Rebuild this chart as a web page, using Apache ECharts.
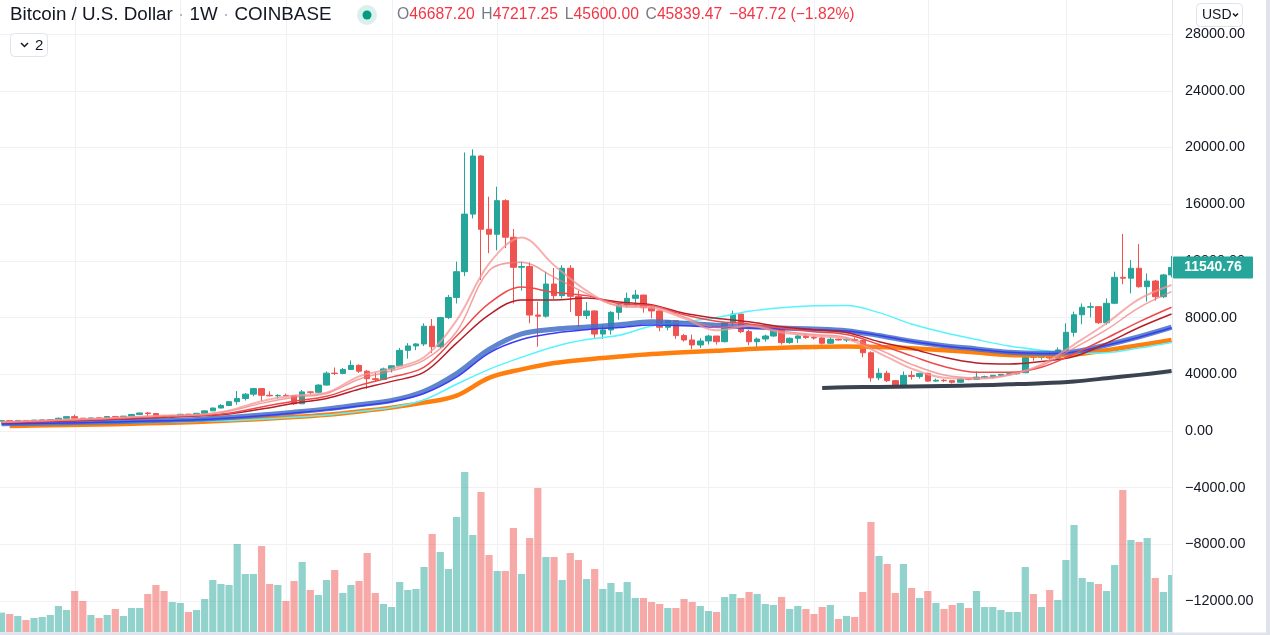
<!DOCTYPE html>
<html><head><meta charset="utf-8">
<script src="https://cdn.jsdelivr.net/npm/echarts@6/dist/echarts.min.js"></script>
<style>html,body{margin:0;padding:0;background:#fff;overflow:hidden}#c{width:1270px;height:635px}</style>
</head><body><div id="c"></div>
<script>
// ---- data (weekly BTC/USD, Coinbase) ----
const startWeek = '2016-10-31';
const opens = [702,725,712,745,740,768,780,795,900,1012,905,820,920,912,1020,998,1050,1170,1270,1230,1020,968,1090,1180,1170,1250,1420,1620,1800,2070,2290,2600,2990,2520,2480,2510,2480,1920,2760,2730,3240,4080,4060,4340,4630,4220,3690,3630,4380,4600,5690,6000,6140,7390,5950,8000,9420,11240,15300,19400,14230,13880,16250,13670,11550,11600,8180,8100,10370,9550,11480,9500,8150,8470,6840,7130,8370,8890,9360,9590,8700,8470,7320,7780,6730,6420,6070,6350,6700,6300,7640,8250,7010,6300,6490,6700,7320,6240,6540,6700,6600,6560,6190,6470,6420,6440,6380,5520,3750,4070,3550,3250,3920,3850,4060,3520,3580,3550,3440,3660,3640,3800,3830,3930,4000,4040,4110,5280,5200,5330,5150,5720,6960,8200,8730,8770,7640,9010,10840,10780,11480,10180,10580,9470,11010];
const highs = [745,740,760,760,775,785,800,940,1020,1160,915,935,930,1030,1070,1060,1190,1290,1330,1260,1050,1100,1200,1220,1270,1440,1650,1890,2100,2820,2680,3020,3000,2800,2600,2640,2480,2900,2800,3300,4200,4480,4450,4980,4700,4300,4120,4470,4620,5860,6200,6200,7600,7900,8050,9600,11950,19650,19870,19450,16530,17240,16350,14250,11940,11900,9120,11240,11500,11700,11700,9900,9100,8500,7500,8450,9000,9760,9950,9600,8900,8560,7800,7780,6850,6800,6550,6800,6700,7700,8490,8260,7140,6600,6800,7400,7410,6600,6800,6850,6700,6650,6600,6520,6530,6600,6440,5620,4420,4250,3600,4200,4240,4100,4120,3700,3660,3580,3700,3720,4200,3900,3950,4020,4100,4150,5350,5470,5350,5600,5900,7600,8420,9000,9060,8800,9360,11240,13900,12060,13190,11120,10650,11080,12350];
const lows = [690,695,700,720,730,755,770,790,890,880,750,800,880,905,950,980,1040,1150,990,950,890,930,1060,1120,1150,1230,1400,1600,1760,1850,2150,2450,2100,2450,2300,2450,1840,1900,2600,2700,3200,3950,4000,4300,4100,2980,3450,3590,4130,4580,5100,5700,5990,5500,5850,7900,9000,10930,15000,10650,12540,12750,12900,9000,9900,7600,5950,8000,9300,9350,8400,7350,7900,6540,6500,6800,7850,8700,8800,8350,7950,7040,7100,6500,6300,5780,5850,6100,6100,6250,7400,6900,6050,5880,6300,6650,6100,6150,6200,6500,6450,6100,6150,6370,6280,6350,5200,3480,3580,3450,3200,3230,3620,3700,3480,3480,3450,3350,3380,3580,3620,3700,3700,3830,3950,3980,4080,4960,5030,5050,5100,5680,6660,7530,8020,7550,7500,8950,10350,9710,10110,9130,9200,9380,10840];
const closes = [725,712,745,740,768,780,795,900,1012,905,820,920,912,1020,998,1050,1170,1270,1230,1020,968,1090,1180,1170,1250,1420,1620,1800,2070,2290,2600,2990,2520,2480,2510,2480,1920,2760,2730,3240,4080,4060,4340,4630,4220,3690,3630,4380,4600,5690,6000,6140,7390,5950,8000,9420,11240,15300,19400,14230,13880,16250,13670,11550,11600,8180,8100,10370,9550,11480,9500,8150,8470,6840,7130,8370,8890,9360,9590,8700,8470,7320,7780,6730,6420,6070,6350,6700,6300,7640,8250,7010,6300,6490,6700,7320,6240,6540,6700,6600,6560,6190,6470,6420,6440,6380,5520,3750,4070,3550,3250,3920,3850,4060,3520,3580,3550,3440,3660,3640,3800,3830,3930,4000,4040,4110,5280,5200,5330,5150,5720,6960,8200,8730,8770,7640,9010,10840,10780,11480,10180,10580,9470,11010,11540.76];
const volumes = [19.7,18.3,16.3,12.3,14.3,15.3,17.3,26.3,22.3,41.3,31.3,17.3,14.3,17.3,23.3,16.3,24.3,24.3,38.3,47.3,41.3,30.3,29.3,20.3,22.3,33.3,52.3,48.3,47.3,88.3,58.3,58.3,86.3,48.3,47.3,31.3,51.3,70.3,42.3,37.3,52.3,62.3,39.3,47.3,51.3,79.3,39.3,28.3,25.3,50.3,42.3,43.3,65.3,98.3,80.3,63.3,115.3,160.3,97.3,140.3,77.3,61.3,61.3,104.3,58.3,94.3,144.3,75.3,75.3,52.3,79.3,72.3,53.3,63.3,43.3,49.3,40.3,50.3,34.3,34.3,30.3,28.3,24.3,24.3,33.3,30.3,26.3,21.3,20.3,35.3,38.3,34.3,40.3,38.3,28.3,27.3,35.3,23.3,26.3,23.3,18.3,25.3,27.3,13.3,16.3,15.3,40.3,110.3,76.3,68.3,39.3,68.3,44.3,34.3,41.3,29.3,23.3,27.3,29.3,24.3,41.3,25.3,25.3,22.3,20.3,20.3,65.3,38.3,25.3,42.3,32.3,72.3,107.3,54.3,50.3,48.3,41.3,67.3,142.3,92.3,90.3,94.3,54.3,40.3,57.3];
// moving averages, read every 4 weeks
const maIdx = [0,4,8,12,16,20,24,28,32,36,40,44,48,52,56,60,64,68,72,76,80,84,88,92,96,100,104,108,112,116,120,124,128,132,136,140,144];
const maPinkA = [640,715,800,880,990,1100,1140,1450,2100,2500,2700,3850,4400,5200,7800,11800,13650,11700,9900,8800,8700,7950,7100,7400,6950,6700,6500,5500,4400,3750,3680,3950,4700,6100,7600,9300,10300];
const maPinkB = [620,700,790,870,975,1080,1140,1400,1950,2380,2650,3650,4250,5000,7000,11300,11900,10850,9700,8850,8800,8050,7300,7450,7050,6800,6600,5750,4700,3950,3750,3950,4600,5850,7150,8700,9830];
const maRed = [600,660,740,810,910,1010,1090,1260,1700,2100,2450,3200,3800,4500,6700,9000,10150,9780,9550,9000,8850,8200,7750,7550,7250,7000,6800,6100,5300,4550,4150,4150,4500,5450,6550,7700,8730];
const maDarkRed = [580,630,710,780,870,970,1050,1200,1550,1950,2300,2950,3500,4150,6200,8200,9250,9250,9380,9100,8900,8300,7950,7700,7350,7150,6950,6300,5800,5200,4800,4720,4900,5250,6200,7300,8250];
const maBlueThick = [520,550,590,630,690,750,820,960,1130,1330,1560,1850,2150,2800,4050,5750,6850,7180,7330,7500,7700,7600,7460,7350,7260,7200,7080,6740,6330,6020,5790,5560,5480,5590,6070,6650,7320];
const maBlueThin = [500,530,570,610,670,730,790,920,1080,1270,1490,1770,2070,2650,3800,5500,6450,6900,7150,7300,7470,7420,7320,7260,7200,7150,7050,6740,6330,6000,5770,5550,5470,5580,6050,6620,7280];
const maCyan = [450,480,510,540,580,620,670,730,830,970,1130,1380,1650,2200,3300,4350,5200,5950,6450,6750,7400,7700,8000,8450,8700,8830,8850,8350,7550,6950,6450,6000,5700,5470,5520,5850,6250];
const orangeIdx = [1,4,8,12,16,20,24,28,32,36,40,44,48,52,56,60,64,68,72,76,80,84,88,92,96,100,104,108,112,116,120,124,128,132,136,140,144];
const maOrange = [360,380,420,460,510,570,640,740,850,980,1150,1380,1650,2000,2500,3750,4350,4800,5050,5250,5430,5560,5660,5790,5870,5930,5960,5920,5830,5700,5530,5370,5340,5400,5700,6050,6420];
const blackIdx = [101,104,108,112,116,120,124,128,132,136,140,144];
const maBlack = [3030,3080,3110,3140,3170,3220,3290,3370,3500,3720,3960,4230];
const gridWeekIdx = [9,22,35,48,61,74,87,100,114,131];
const priceMin = -16000, priceMax = 32000, priceStep = 4000;
const titleParts = ['Bitcoin / U.S. Dollar', '1W', 'COINBASE'];
const ohlcText = ['O','46687.20','H','47217.25','L','45600.00','C','45839.47','−847.72 (−1.82%)'];

// ---- build ----
const cats = [];
{ const d0 = new Date(startWeek + 'T00:00:00Z');
  for (let i = 0; i < opens.length; i++) { const d = new Date(d0.getTime() + i * 7 * 864e5); cats.push(d.toISOString().slice(0, 10)); } }
const candle = opens.map((o, i) => [o, closes[i], lows[i], highs[i]]);
const UP = '#26a69a', DN = '#ef5350';
const vol = volumes.map((v, i) => ({ value: v, itemStyle: { color: closes[i] >= opens[i] ? 'rgba(38,166,154,0.5)' : 'rgba(239,83,80,0.5)' } }));
const pairs = (idx, arr) => idx.map((k, j) => [cats[k], arr[j]]);
const FONT = 'Liberation Sans, Arial, sans-serif';
const GRIDC = '#eff1f4';
function maLine(name, idx, arr, color, width, z) {
  return { name, type: 'line', xAxisIndex: 0, yAxisIndex: 0, data: pairs(idx, arr), smooth: 0.35, showSymbol: false, symbol: 'none', silent: true,
    lineStyle: { color, width, cap: 'butt', join: 'round' }, z, animation: false };
}
const GL = -2.5, GW = 1178.1;
const chart = echarts.init(document.getElementById('c'), null, { renderer: 'canvas' });
const fmt = v => (v < 0 ? '\u2212' + Math.abs(v).toFixed(2) : v.toFixed(2));
chart.setOption({
  animation: false,
  backgroundColor: '#ffffff',
  grid: [
    { left: GL, width: GW, top: -22.6, height: 680.4, containLabel: false, outerBoundsMode: 'none' },
    { left: GL, width: GW, top: 432.3, height: 200, containLabel: false, outerBoundsMode: 'none' }
  ],
  xAxis: [
    { type: 'category', data: cats, gridIndex: 0, boundaryGap: true, show: false },
    { type: 'category', data: cats, gridIndex: 1, boundaryGap: true, show: false }
  ],
  yAxis: [
    { type: 'value', gridIndex: 0, position: 'right', min: priceMin, max: priceMax, interval: priceStep,
      axisLine: { show: false }, axisTick: { show: false }, axisLabel: { show: false },
      splitLine: { show: true, lineStyle: { color: GRIDC, width: 1 } }, z: 0 },
    { type: 'value', gridIndex: 0, position: 'right', min: priceMin, max: priceMax, interval: priceStep,
      axisLine: { show: false }, axisTick: { show: false }, splitLine: { show: false },
      axisLabel: { show: true, margin: 9.5, color: '#131722', fontSize: 14.4, fontFamily: FONT, formatter: fmt }, z: 110 },
    { type: 'value', gridIndex: 1, min: 0, max: 200, show: false, splitLine: { show: false } }
  ],
  series: [
    { name: 'vol', type: 'bar', xAxisIndex: 1, yAxisIndex: 2, data: vol, barWidth: 7.2, silent: true, z: 1 },
    { name: 'BTC', type: 'candlestick', xAxisIndex: 0, yAxisIndex: 0, data: candle, barWidth: 6, silent: true, z: 3,
      itemStyle: { color: UP, color0: DN, borderColor: UP, borderColor0: DN, borderWidth: 1 } },
    maLine('orange', orangeIdx, maOrange, '#ff7f0e', 4.5, 4),
    maLine('black', blackIdx, maBlack, '#3b4350', 4, 4),
    maLine('cyan', maIdx, maCyan, '#55f4ff', 1.5, 5),
    maLine('blueThick', maIdx, maBlueThick, 'rgba(66,112,196,0.85)', 5, 5),
    maLine('blueThin', maIdx, maBlueThin, '#3a3cf5', 1.5, 6),
    maLine('darkred', maIdx, maDarkRed, '#b3202a', 1.5, 6),
    maLine('red', maIdx, maRed, '#ee4a4a', 1.5, 6),
    maLine('pinkB', maIdx, maPinkB, 'rgba(239,120,120,0.7)', 1.5, 6),
    maLine('pinkA', maIdx, maPinkA, 'rgba(244,150,150,0.75)', 2, 6)
  ]
});

// overlays positioned through the chart's own scales
const g = [];
gridWeekIdx.forEach(k => {
  const x = Math.round(chart.convertToPixel({ xAxisIndex: 0 }, cats[k])) + 0.5;
  g.push({ type: 'line', z: 0, silent: true, shape: { x1: x, y1: 0, x2: x, y2: 633 }, style: { stroke: GRIDC, lineWidth: 1 } });
});
// right price-scale panel
g.push({ type: 'rect', z: 100, silent: true, shape: { x: 1173, y: 0, width: 97, height: 635 }, style: { fill: '#ffffff' } });
g.push({ type: 'line', z: 101, silent: true, shape: { x1: 1172.5, y1: 0, x2: 1172.5, y2: 635 }, style: { stroke: '#e0e3eb', lineWidth: 1 } });
g.push({ type: 'rect', z: 101, silent: true, shape: { x: 1266, y: 0, width: 4, height: 635 }, style: { fill: '#e0e3eb' } });
g.push({ type: 'rect', z: 101, silent: true, shape: { x: 0, y: 632.5, width: 1270, height: 2.5 }, style: { fill: '#e0e3eb' } });
// last price label
const lastClose = closes[closes.length - 1];
const py = chart.convertToPixel({ yAxisIndex: 0 }, lastClose);
g.push({ type: 'rect', z: 120, silent: true, shape: { x: 1173, y: py - 11, width: 80, height: 22, r: 1 }, style: { fill: UP } });
g.push({ type: 'text', z: 121, silent: true, x: 1213, y: py, style: { text: lastClose.toFixed(2), fill: '#ffffff', font: 'bold 14px ' + FONT, align: 'center', verticalAlign: 'middle' } });
// USD button
g.push({ type: 'rect', z: 120, silent: true, shape: { x: 1196.5, y: 3.5, width: 46, height: 23, r: 4 }, style: { fill: '#ffffff', stroke: '#e0e3eb', lineWidth: 1 } });
g.push({ type: 'text', z: 121, silent: true, x: 1202, y: 15, style: { text: 'USD', fill: '#131722', font: '14px ' + FONT, verticalAlign: 'middle' } });
g.push({ type: 'polyline', z: 121, silent: true, shape: { points: [[1233, 13.5], [1235.5, 16], [1238, 13.5]] }, style: { stroke: '#131722', lineWidth: 1.5, fill: null } });
// header
g.push({ type: 'text', z: 120, silent: true, x: 10, y: 15, style: {
  text: `{a|${titleParts[0]}}{d| · }{a|${titleParts[1]}}{d| · }{a|${titleParts[2]}}`,
  verticalAlign: 'middle', rich: { a: { font: '18.8px ' + FONT, fill: '#131722' }, d: { font: '18.8px ' + FONT, fill: '#b2b5be' } } } });
g.push({ type: 'circle', z: 120, silent: true, shape: { cx: 367, cy: 15, r: 10 }, style: { fill: 'rgba(8,153,129,0.15)' } });
g.push({ type: 'circle', z: 121, silent: true, shape: { cx: 367, cy: 15, r: 4.5 }, style: { fill: '#089981' } });
g.push({ type: 'text', z: 120, silent: true, x: 397, y: 15, style: {
  text: `{l|${ohlcText[0]}}{v|${ohlcText[1]}}  {l|${ohlcText[2]}}{v|${ohlcText[3]}}  {l|${ohlcText[4]}}{v|${ohlcText[5]}}  {l|${ohlcText[6]}}{v|${ohlcText[7]}}  {v|${ohlcText[8]}}`,
  verticalAlign: 'middle', rich: { l: { font: '15.7px ' + FONT, fill: '#787b86' }, v: { font: '15.7px ' + FONT, fill: '#f23645' } } } });
// legend collapse button
g.push({ type: 'rect', z: 120, silent: true, shape: { x: 10.5, y: 33.5, width: 37, height: 23, r: 4 }, style: { fill: '#ffffff', stroke: '#e0e3eb', lineWidth: 1 } });
g.push({ type: 'polyline', z: 121, silent: true, shape: { points: [[21, 43], [24.5, 46.5], [28, 43]] }, style: { stroke: '#131722', lineWidth: 1.5, fill: null } });
g.push({ type: 'text', z: 121, silent: true, x: 35, y: 45.5, style: { text: '2', fill: '#131722', font: '15px ' + FONT, verticalAlign: 'middle' } });
chart.setOption({ graphic: { elements: g } });
</script>
</body></html>
